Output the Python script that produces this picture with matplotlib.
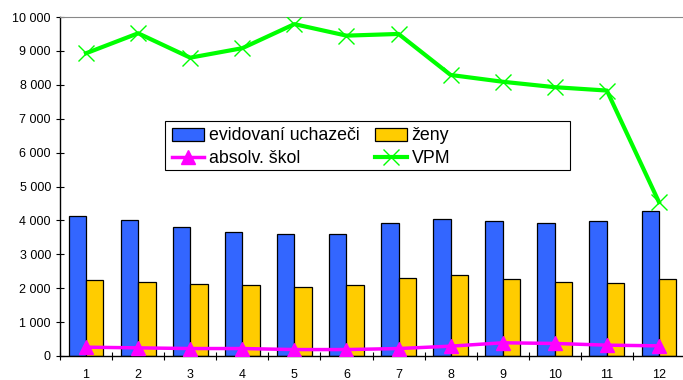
import numpy as np
import matplotlib.pyplot as plt
from matplotlib.patches import Rectangle
from matplotlib.ticker import FuncFormatter

plt.rcParams['font.family'] = ['Liberation Sans', 'DejaVu Sans']

# data
mesice = [1, 2, 3, 4, 5, 6, 7, 8, 9, 10, 11, 12]
evidovani = [4140, 4010, 3800, 3670, 3590, 3590, 3910, 4040, 3980, 3910, 3970, 4270]
zeny = [2240, 2170, 2120, 2090, 2030, 2080, 2300, 2380, 2260, 2180, 2150, 2280]
absolv = [260, 240, 220, 220, 190, 190, 220, 290, 390, 370, 320, 300]
vpm = [8930, 9520, 8800, 9080, 9790, 9450, 9500, 8290, 8090, 7930, 7830, 4540]

W, H = 683, 380
fig = plt.figure(figsize=(W / 100, H / 100), dpi=100)
ax = fig.add_axes([60 / W, 1 - 356 / H, 625 / W, 339 / H])

x = np.arange(len(mesice))
w = 0.335
ax.bar(x - w / 2, evidovani, w, color='#3366FF', edgecolor='black', linewidth=0.9,
       label='evidovaní uchazeči', zorder=2)
ax.bar(x + w / 2, zeny, w, color='#FFCC00', edgecolor='black', linewidth=0.9,
       label='ženy', zorder=2)
ax.plot(x, absolv, color='#FF00FF', linewidth=2.5, marker='^', markersize=10,
        label='absolv. škol', zorder=3)
ax.plot(x, vpm, color='#00FF00', linewidth=3, marker='x', markersize=12,
        markeredgewidth=1, label='VPM', zorder=3)

ax.set_xlim(-0.5, len(mesice) - 0.5)
ax.set_ylim(0, 10000)
ax.set_yticks(np.arange(0, 10001, 1000))
ax.yaxis.set_major_formatter(FuncFormatter(lambda v, p: f"{int(v):,}".replace(',', ' ')))
ax.set_xticks(x)
ax.set_xticklabels(mesice)
ax.set_xticks(np.arange(-0.5, len(mesice), 1), minor=True)
ax.tick_params(axis='x', which='major', length=0, labelsize=9, pad=9)
ax.tick_params(axis='x', which='minor', direction='inout', length=6, width=0.8)
ax.tick_params(axis='y', direction='inout', length=6, width=0.8, labelsize=9)

ax.spines['right'].set_visible(False)
ax.spines['top'].set_color('#888888')
ax.spines['left'].set_linewidth(1)
ax.spines['bottom'].set_linewidth(1)

# legend box (Excel leaves empty room on the right)
fig.patches.append(Rectangle((165 / W, 1 - 170 / H), 405 / W, 49.5 / H,
                             transform=fig.transFigure, facecolor='white',
                             edgecolor='black', linewidth=0.8, zorder=4))

h, l = ax.get_legend_handles_labels()
h = [h[i] for i in [2, 0, 3, 1]]
l = [l[i] for i in [2, 0, 3, 1]]
leg = fig.legend(h, l, ncol=2, loc='upper left', bbox_to_anchor=(172 / W, 1 - 127.5 / H),
                 fontsize=12.8, frameon=False, borderpad=0, borderaxespad=0,
                 handlelength=1.8, handletextpad=0.28, columnspacing=0.84,
                 labelspacing=0.3)
leg.set_zorder(5)

plt.savefig('out.png', dpi=100)
